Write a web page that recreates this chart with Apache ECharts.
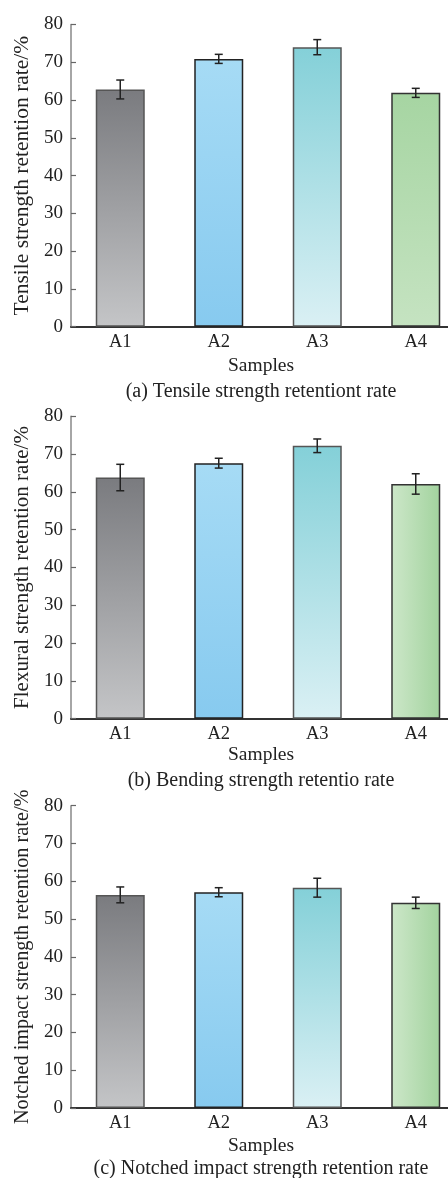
<!DOCTYPE html>
<html>
<head>
<meta charset="utf-8">
<script src="https://cdn.jsdelivr.net/npm/echarts@6/dist/echarts.min.js"></script>
<style>html,body{margin:0;padding:0;background:#fff;overflow:hidden;width:448px;height:1178px}#c{width:468px;height:1178px}</style>
</head>
<body>
<div id="c"></div>
<script>
// ---- data ----
const categories = ['A1', 'A2', 'A3', 'A4'];
const tensileMean = [62.8, 70.9, 74.0, 61.9];
const tensileErr = [2.5, 1.2, 2.0, 1.2];
const flexuralMean = [63.8, 67.6, 72.2, 62.1];
const flexuralErr = [3.5, 1.3, 1.8, 2.7];
const impactMean = [56.4, 57.1, 58.3, 54.3];
const impactErr = [2.1, 1.2, 2.5, 1.5];
const yMin = 0, yMax = 80, yInterval = 10;
const yNames = ['Tensile strength retention rate/%', 'Flexural strength retention rate/%', 'Notched impact strength retention rate/%'];
const xName = 'Samples';
const captions = ['(a) Tensile strength retentiont rate', '(b) Bending strength retentio rate', '(c) Notched impact strength retention rate'];

const FONT = "'Liberation Serif','Times New Roman',serif";
const TXT = '#222';

function lin(x0,y0,x1,y1,c0,c1){return new echarts.graphic.LinearGradient(x0,y0,x1,y1,[{offset:0,color:c0},{offset:1,color:c1}]);}
function barStyles(panel){
  return [
    {color: lin(0,0,0,1,'#7a7b7f','#c4c5c7'), borderColor:'#555', borderWidth:1.5},
    {color: lin(0,0,0,1,'#a6dbf5','#87caef'), borderColor:'#222', borderWidth:1.5},
    {color: lin(0,0,0,1,'#84d0d8','#daf0f4'), borderColor:'#555', borderWidth:1.5},
    panel===0 ? {color: lin(0,0,0,1,'#a6d5a2','#c5e3c1'), borderColor:'#333', borderWidth:1.5}
              : {color: lin(0,0,1,0,'#cde7c9','#a2d39e'), borderColor:'#333', borderWidth:1.5}
  ];
}

const grids = [
  {left:71, width:394, top:24.5, height:302.2},
  {left:71, width:394, top:416.3, height:302.4},
  {left:71, width:394, top:805.7, height:302.3}
];
const xNameGaps = [29, 24.5, 28];
const yNameSizes = [21.5, 21, 20.3];
const captionY = [391.7, 781, 1169];
const means = [tensileMean, flexuralMean, impactMean];
const errs = [tensileErr, flexuralErr, impactErr];

const xAxes = [], yAxes = [], series = [], graphics = [];
for (let p=0;p<3;p++){
  xAxes.push({
    type:'category', gridIndex:p, data:categories, boundaryGap:true,
    name:xName, nameLocation:'middle', nameGap:xNameGaps[p],
    nameTextStyle:{fontFamily:FONT,fontSize:19.5,color:TXT,padding:[0,14,0,0]},
    axisLine:{lineStyle:{color:'#333',width:2}},
    axisTick:{show:false},
    axisLabel:{fontFamily:FONT,fontSize:18.5,color:TXT,margin:6}
  });
  yAxes.push({
    type:'value', gridIndex:p, min:yMin, max:yMax, interval:yInterval,
    name:yNames[p], nameLocation:'middle', nameGap:38, nameRotate:90,
    nameTextStyle:{fontFamily:FONT,fontSize:yNameSizes[p],color:TXT},
    axisLine:{show:true,lineStyle:{color:'#888',width:1.5}},
    axisTick:{show:true,inside:true,length:5,lineStyle:{color:'#666',width:1.2}},
    axisLabel:{fontFamily:FONT,fontSize:19,color:TXT,margin:8},
    splitLine:{show:false}
  });
  const st = barStyles(p);
  series.push({
    type:'bar', xAxisIndex:p, yAxisIndex:p, barWidth:49,
    data: means[p].map((v,i)=>({value:v,itemStyle:st[i]}))
  });
  series.push({
    type:'custom', xAxisIndex:p, yAxisIndex:p, z:5,
    data: means[p].map((v,i)=>[i, v-errs[p][i], v+errs[p][i]]),
    renderItem:function(params, api){
      const lo = api.coord([api.value(0), api.value(1)]);
      const hi = api.coord([api.value(0), api.value(2)]);
      const hw = 4;
      const ls = {stroke:'#222', lineWidth:1.5};
      return {type:'group', children:[
        {type:'line', shape:{x1:lo[0],y1:lo[1],x2:hi[0],y2:hi[1]}, style:ls},
        {type:'line', shape:{x1:lo[0]-hw,y1:lo[1],x2:lo[0]+hw,y2:lo[1]}, style:ls},
        {type:'line', shape:{x1:hi[0]-hw,y1:hi[1],x2:hi[0]+hw,y2:hi[1]}, style:ls}
      ]};
    }
  });
  graphics.push({
    type:'text', x:261, y:captionY[p],
    style:{text:captions[p], font:'20px '+FONT, fill:TXT, textAlign:'center', textVerticalAlign:'middle'}
  });
}

const chart = echarts.init(document.getElementById('c'), null, {renderer:'canvas'});
chart.setOption({
  animation:false,
  backgroundColor:'#fff',
  grid:grids,
  xAxis:xAxes,
  yAxis:yAxes,
  series:series,
  graphic:graphics
});
</script>
</body>
</html>
